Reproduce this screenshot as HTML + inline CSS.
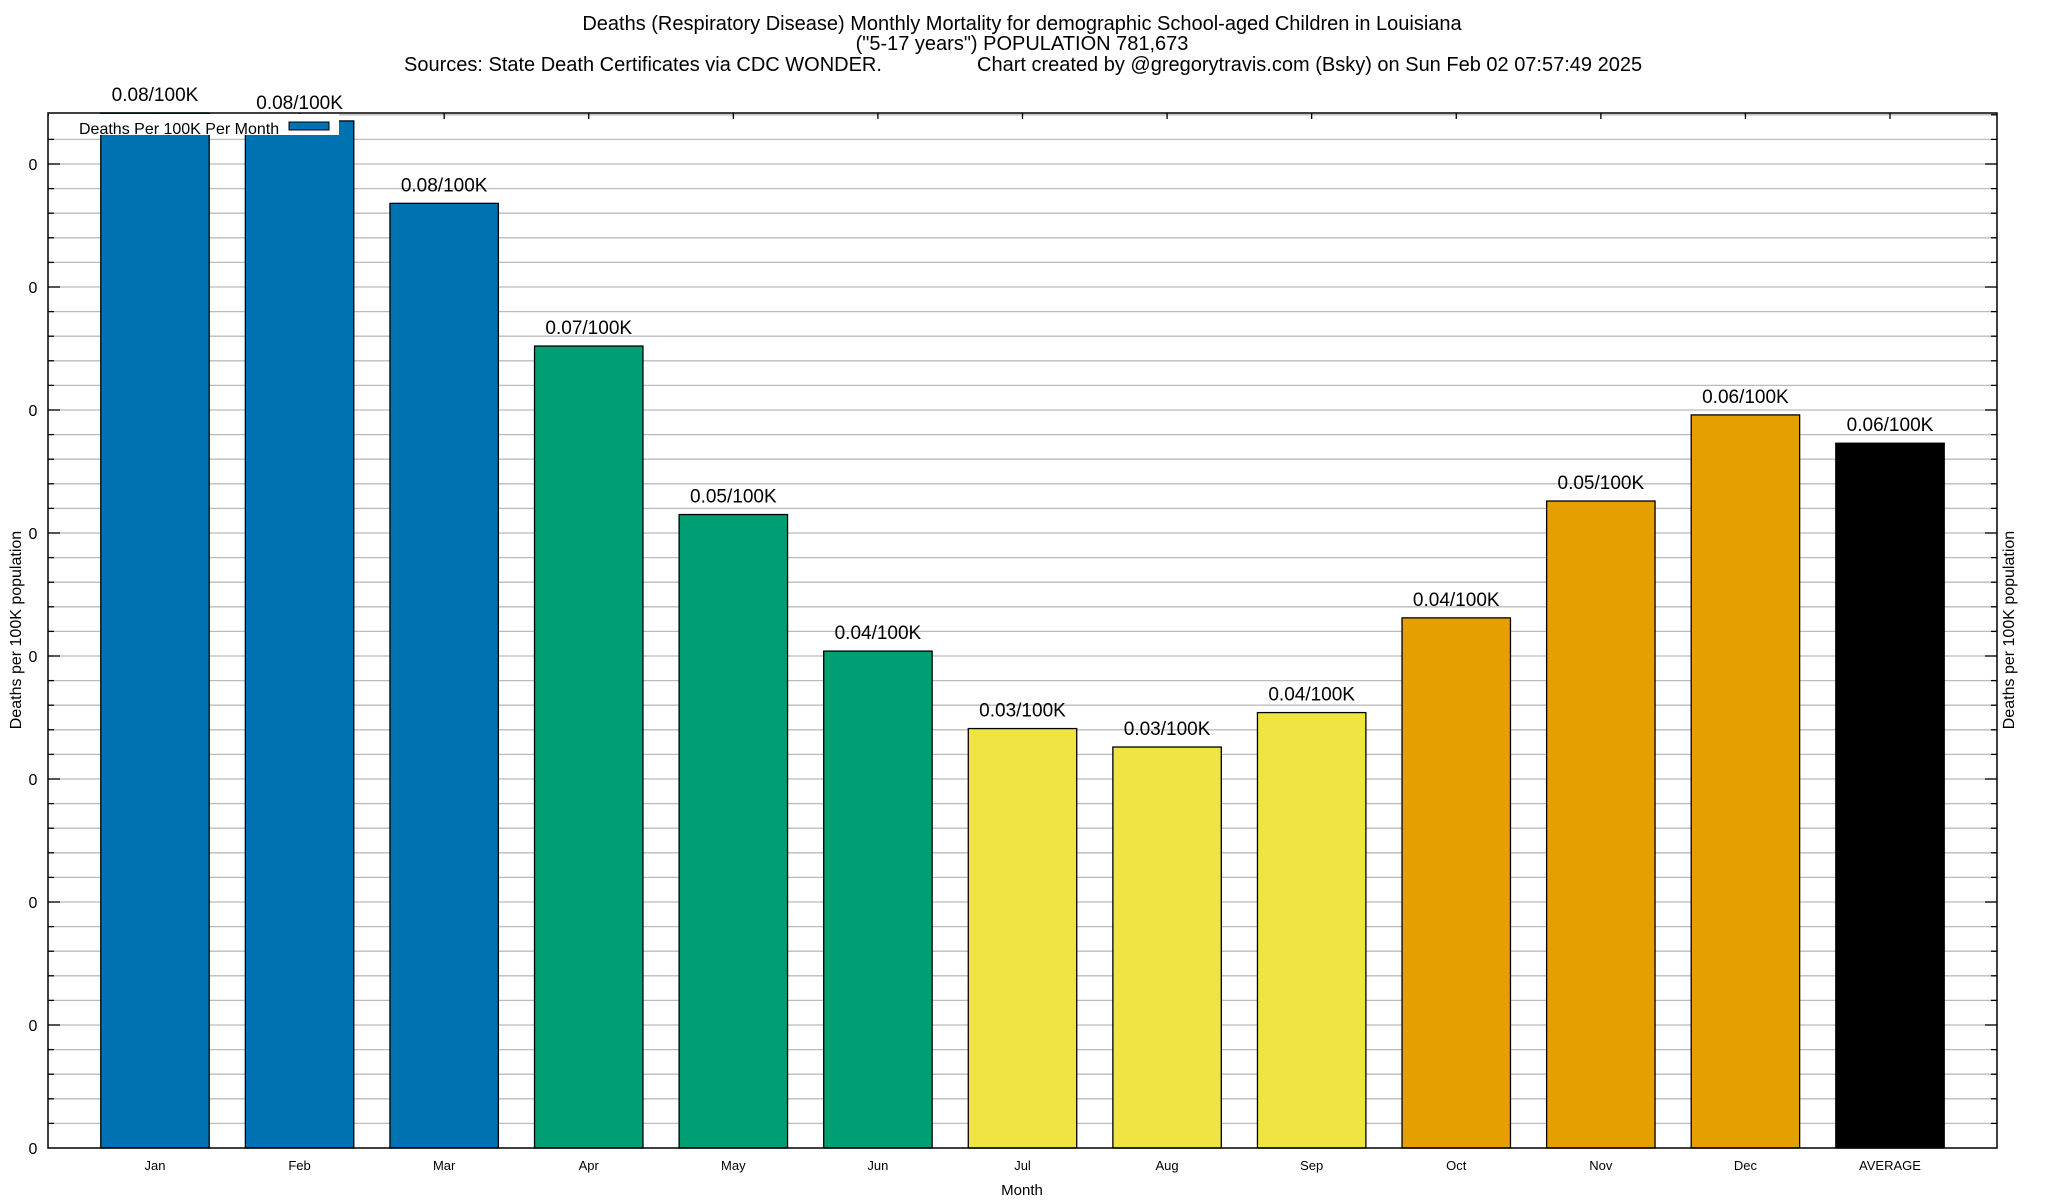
<!DOCTYPE html>
<html><head><meta charset="utf-8"><style>
html,body{margin:0;padding:0;background:#fff;}
svg{display:block;font-family:"Liberation Sans",Arial,sans-serif;}
</style></head><body>
<svg id="chart" width="2048" height="1200" viewBox="0 0 2048 1200">
<text x="1022" y="30" font-size="20" text-anchor="middle">Deaths (Respiratory Disease) Monthly Mortality for demographic School-aged Children in Louisiana</text>
<text x="1022" y="50" font-size="20" text-anchor="middle">("5-17 years") POPULATION 781,673</text>
<text x="404" y="71" font-size="20">Sources: State Death Certificates via CDC WONDER.</text>
<text x="977" y="71" font-size="20">Chart created by @gregorytravis.com (Bsky) on Sun Feb 02 07:57:49 2025</text>
<g id="grid"></g>
<g id="bars"></g>
<g id="axes"></g>
<text x="1022" y="1195" font-size="15" text-anchor="middle">Month</text>
<text transform="translate(21,630) rotate(-90)" font-size="16" text-anchor="middle">Deaths per 100K population</text>
<text transform="translate(2014,630) rotate(-90)" font-size="16" text-anchor="middle">Deaths per 100K population</text>
<g>
<rect x="49" y="114" width="290" height="21" fill="#fff"/>
<text x="79" y="134" font-size="16">Deaths Per 100K Per Month</text>
<rect x="289" y="122" width="40" height="8" fill="#0072b2" stroke="#000" stroke-width="1"/>
</g>
</svg>
<script>
const categories = ["Jan","Feb","Mar","Apr","May","Jun","Jul","Aug","Sep","Oct","Nov","Dec","AVERAGE"];
const values = [0.0845,0.0835,0.0768,0.0652,0.0515,0.0404,0.0341,0.0326,0.0354,0.0431,0.0526,0.0596,0.0573];
const valueLabels = ["0.08/100K","0.08/100K","0.08/100K","0.07/100K","0.05/100K","0.04/100K","0.03/100K","0.03/100K","0.04/100K","0.04/100K","0.05/100K","0.06/100K","0.06/100K"];
const barColors = ["#0072b2","#0072b2","#0072b2","#009e73","#009e73","#009e73","#f0e442","#f0e442","#f0e442","#e69f00","#e69f00","#e69f00","#000000"];
const yTicks = [0,0.01,0.02,0.03,0.04,0.05,0.06,0.07,0.08];
const yTickLabels = ["0","0","0","0","0","0","0","0","0"];

const L=48,R=1997,T=113,B=1148;
const yMax=(B-T)/12300;
const xMin=-0.74,xMax=12.74;
const NS="http://www.w3.org/2000/svg";
function xs(i){return L+(i-xMin)/(xMax-xMin)*(R-L);}
function ys(v){return B-Math.min(v,yMax)/yMax*(B-T);}
function mk(tag,attrs,parent){const e=document.createElementNS(NS,tag);for(const k in attrs)e.setAttribute(k,attrs[k]);parent.appendChild(e);return e;}
const grid=document.getElementById('grid'),bars=document.getElementById('bars'),axes=document.getElementById('axes');
const slot=(R-L)/(xMax-xMin);
for(let v=0.002;v<yMax;v+=0.002){
  const y=ys(v);
  const major=Math.abs(v/0.01-Math.round(v/0.01))<1e-6;
  const ln=mk('line',{x1:L,x2:R,y1:y,y2:y,stroke:'#bbb','stroke-width':1.3},grid);
  
  
  for(const [x0,d] of [[L,1],[R,-1]]){
    const t=mk('line',{x1:x0,x2:x0+d*(major?12:6),y1:y,y2:y,stroke:'#000','stroke-width':1.3},axes);
    
    
  }
}
yTicks.forEach((v,i)=>{
  if(v===0)return;
  const t=mk('text',{x:33,y:ys(v)+6,'font-size':16,'text-anchor':'middle'},axes);
  t.textContent=yTickLabels[i];
  
  
});
const z=mk('text',{x:33,y:B+6,'font-size':16,'text-anchor':'middle'},axes);
z.textContent=yTickLabels[0];


const bw=slot*0.75;
categories.forEach((c,i)=>{
  const cx=xs(i),top=ys(values[i]);
  const r=mk('rect',{x:cx-bw/2,y:top,width:bw,height:B-top,fill:barColors[i],stroke:'#000','stroke-width':1.3},bars);
  
  
  const lb=mk('text',{x:cx,y:ys(values[i])-12,'font-size':19,'text-anchor':'middle'},bars);
  lb.textContent=valueLabels[i];
  
  
  const xl=mk('text',{x:cx,y:1170,'font-size':13,'text-anchor':'middle'},axes);
  xl.textContent=c;
  
  
  const tt=mk('line',{x1:cx,x2:cx,y1:T,y2:T+6,stroke:'#000','stroke-width':1.3},axes);
  
  
});
const fr=mk('rect',{x:L,y:T,width:R-L,height:B-T,fill:'none',stroke:'#000','stroke-width':1.5},axes);


</script>
</body></html>
